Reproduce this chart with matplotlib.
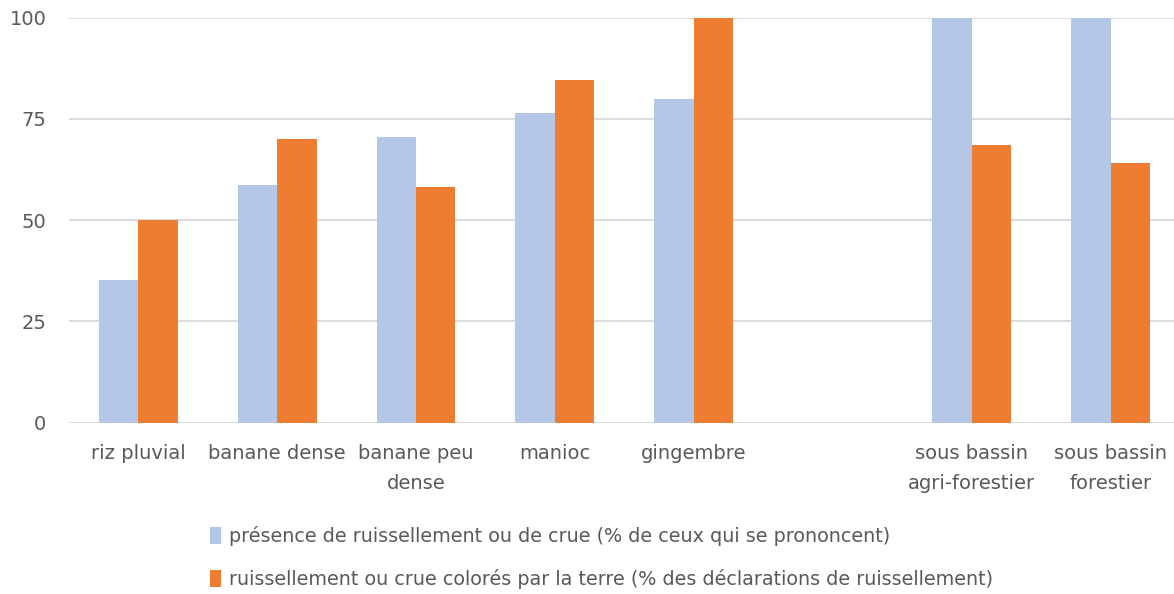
import numpy as np
import matplotlib
matplotlib.use("Agg")
import matplotlib.pyplot as plt
from matplotlib.patches import Patch

plt.rcParams['font.family'] = ['DejaVu Sans']

# ── Data ──────────────────────────────────────────────────────────────────────
categories = ["riz pluvial", "banane dense", "banane peu\ndense", "manioc",
              "gingembre", "", "sous bassin\nagri-forestier", "sous bassin\nforestier"]
presence = [35.2, 58.8, 70.5, 76.4, 80.0, np.nan, 100.0, 100.0]
colores = [50.0, 70.0, 58.3, 84.5, 100.0, np.nan, 68.6, 64.2]
series_labels = ["présence de ruissellement ou de crue (% de ceux qui se prononcent)",
                 "ruissellement ou crue colorés par la terre (% des déclarations de ruissellement)"]
yticks = [0, 25, 50, 75, 100]

BLUE, ORANGE = "#b4c7e7", "#ed7d31"
TXT, GRID = "#595959", "#d9d9d9"

fig = plt.figure(figsize=(11.74, 5.94), dpi=100)
ax = fig.add_axes([0.0585, 0.2884, 0.9466, 0.6818])

x = np.arange(len(categories))
w = 0.284
ax.bar(x - w/2, presence, w, color=BLUE, zorder=2)
ax.bar(x + w/2, colores, w, color=ORANGE, zorder=2)

ax.set_xlim(-0.5, len(categories) - 0.5)
ax.set_ylim(0, 100)
ax.set_yticks(yticks)
ax.set_xticks(x)
ax.set_xticklabels(categories, multialignment="center", linespacing=1.75)
ax.tick_params(axis="both", length=0, colors=TXT, labelsize=14)
ax.tick_params(axis="y", pad=16)
ax.tick_params(axis="x", pad=15)
ax.grid(axis="y", color=GRID, lw=1.3, zorder=0)
for s in ax.spines.values():
    s.set_visible(False)

handles = [Patch(facecolor=BLUE), Patch(facecolor=ORANGE)]
fig.legend(handles, series_labels, loc="upper left", bbox_to_anchor=(0.179, 0.115),
           frameon=False, fontsize=13.8, labelcolor=TXT, handlelength=0.55,
           handleheight=1.0, handletextpad=0.45, labelspacing=1.2,
           borderaxespad=0, borderpad=0)

fig.savefig("out.png", dpi=100)
